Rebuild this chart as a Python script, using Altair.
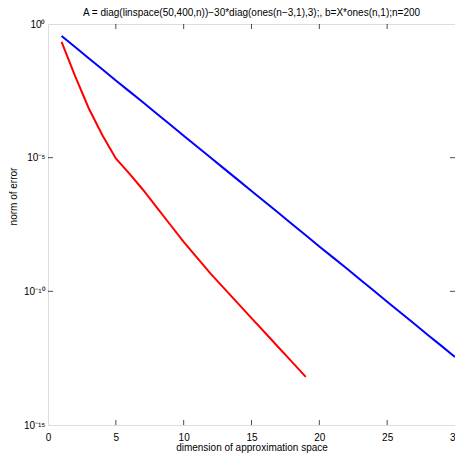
import altair as alt
import pandas as pd

# Data (log10 of norm of error)
blue_n = list(range(1, 31))
blue_log = [-0.45, -0.86, -1.28, -1.69, -2.11, -2.52, -2.93, -3.35, -3.76, -4.18,
            -4.59, -5.00, -5.42, -5.83, -6.25, -6.66, -7.07, -7.49, -7.90, -8.32,
            -8.73, -9.14, -9.56, -9.97, -10.39, -10.80, -11.21, -11.63, -12.04, -12.46]
red_n = list(range(1, 20))
red_log = [-0.67, -1.95, -3.15, -4.15, -5.03, -5.60, -6.20, -6.85, -7.50, -8.15,
           -8.75, -9.35, -9.90, -10.45, -11.00, -11.55, -12.10, -12.65, -13.20]

x_ticks = [0, 5, 10, 15, 20, 25, 30]
inner_x_ticks = [5, 10, 15, 20, 25]
y_ticks = [1, 1e-5, 1e-10, 1e-15]
inner_y_ticks = [1e-5, 1e-10]

title = "A = diag(linspace(50,400,n))\u221230*diag(ones(n\u22123,1),3);, b=X*ones(n,1);n=200"

W, H = 407, 401
FONT = "Liberation Sans"

df = pd.concat([
    pd.DataFrame({"n": blue_n, "err": [10 ** v for v in blue_log], "s": "blue"}),
    pd.DataFrame({"n": red_n, "err": [10 ** v for v in red_log], "s": "red"}),
])

xs = alt.Scale(domain=[0, 30], nice=False, zero=False)
ys = alt.Scale(type="log", domain=[1e-15, 1], nice=False)

xaxis = alt.Axis(values=x_ticks, title="dimension of approximation space", grid=False,
                 ticks=False, domain=False, labelFont=FONT, labelFontSize=10,
                 labelColor="#000", labelPadding=7, titleFont=FONT, titleFontSize=10,
                 titleFontWeight="normal", titleColor="#000", titleBaseline="middle",
                 titleY=22, labelFlush=False, labelOverlap=False)
yaxis = alt.Axis(values=y_ticks, title="norm of error", grid=False, ticks=False,
                 domain=False, labelFont=FONT, labelFontSize=10, labelColor="#000",
                 labelPadding=3, labelBaseline="middle",
                 labelExpr="datum.value >= 0.5 ? '10\u2070' : datum.value > 1e-7 ? '10\u207b\u2075' : datum.value > 1e-12 ? '10\u207b\u00b9\u2070' : '10\u207b\u00b9\u2075'",
                 titleFont=FONT, titleFontSize=10, titleFontWeight="normal",
                 titleColor="#000", titleBaseline="middle", titleX=-35, titleY=172,
                 labelFlush=False, labelOverlap=False)

lines = alt.Chart(df).mark_line(strokeWidth=2, clip=True).encode(
    x=alt.X("n:Q", scale=xs, axis=xaxis),
    y=alt.Y("err:Q", scale=ys, axis=yaxis),
    color=alt.Color("s:N", scale=alt.Scale(domain=["blue", "red"], range=["#0000ff", "#ff0000"]), legend=None),
)

xt = pd.DataFrame({"n": inner_x_ticks})
yt = pd.DataFrame({"err": inner_y_ticks})
tick_bottom = alt.Chart(xt).mark_tick(color="#000", size=5, thickness=1, orient="vertical").encode(
    x=alt.X("n:Q", scale=xs), y=alt.value(H - 2.5))
tick_top = alt.Chart(xt).mark_tick(color="#000", size=5, thickness=1, orient="vertical").encode(
    x=alt.X("n:Q", scale=xs), y=alt.value(2.5))
tick_left = alt.Chart(yt).mark_tick(color="#000", size=5, thickness=1, orient="horizontal").encode(
    y=alt.Y("err:Q", scale=ys), x=alt.value(2.5))
tick_right = alt.Chart(yt).mark_tick(color="#000", size=5, thickness=1, orient="horizontal").encode(
    y=alt.Y("err:Q", scale=ys), x=alt.value(W - 2.5))

chart = alt.layer(lines, tick_bottom, tick_top, tick_left, tick_right).properties(
    width=W, height=H,
    title=alt.TitleParams(title, font=FONT, fontSize=10, fontWeight="normal",
                          color="#000", offset=1, anchor="middle"),
    autosize=alt.AutoSizeParams(type="none"),
    padding={"left": 40, "top": 16, "right": 0, "bottom": 29},
).configure_view(stroke="#000", strokeWidth=1.2).configure(background="white")

chart.save("out.html", embed_options={"renderer": "svg", "actions": False})
